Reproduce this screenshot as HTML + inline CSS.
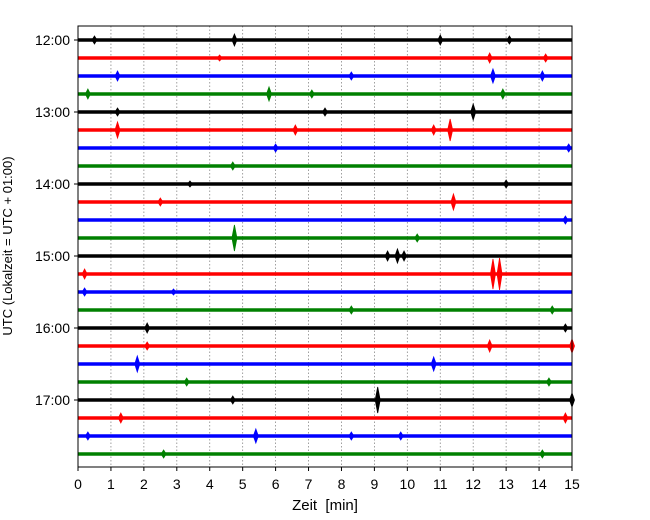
<!DOCTYPE html>
<html><head><meta charset="utf-8"><style>
body{margin:0;background:#fff;}
svg{display:block;font-family:"Liberation Sans","DejaVu Sans",sans-serif;}
</style></head><body>
<svg id="chart" width="650" height="520">
<g id="grid"></g>
<g id="traces"></g>
<rect x="78" y="26" width="494" height="441" fill="none" stroke="#000" stroke-width="1"/>
<g id="axes"></g>
<text x="325" y="510" text-anchor="middle" font-size="15">Zeit&#160; [min]</text>
<text transform="translate(12,246) rotate(-90)" text-anchor="middle" font-size="13">UTC (Lokalzeit = UTC + 01:00)</text>
</svg>
<script>
const xTicks=[0,1,2,3,4,5,6,7,8,9,10,11,12,13,14,15];
const yLabels=["12:00","13:00","14:00","15:00","16:00","17:00"];
const rowColors=["#000000","#ff0000","#0000ff","#008000"];
const events=[
[[0.5,3],[4.75,5],[11,4],[13.1,3]],
[[12.5,4],[14.2,3],[4.3,2]],
[[1.2,4],[12.6,6],[14.1,4],[8.3,3]],
[[0.3,4],[5.8,6],[12.9,4],[7.1,3]],
[[1.2,3],[12,7],[7.5,3]],
[[1.2,7],[11.3,10],[6.6,4],[10.8,4]],
[[6,3],[14.9,3]],
[[4.7,3]],
[[13,3],[3.4,2]],
[[11.4,7],[2.5,3]],
[[14.8,3]],
[[4.75,12],[10.3,3]],
[[9.7,6],[9.4,4],[9.9,4]],
[[12.6,14],[12.8,15],[0.2,4]],
[[0.2,3],[2.9,2]],
[[14.4,3],[8.3,3]],
[[2.1,4],[14.8,3]],
[[12.5,5],[15,6],[2.1,3]],
[[1.8,7],[10.8,6]],
[[3.3,3],[14.3,3]],
[[9.1,12],[15,6],[4.7,3]],
[[1.3,4],[14.8,4]],
[[5.4,6],[0.3,3],[9.8,3],[8.3,3]],
[[2.6,3],[14.1,3]]
];
const NS="http://www.w3.org/2000/svg";
const x0=78,x1=572,y0=40,rowH=18;
const xs=m=>x0+(x1-x0)*m/15;
const ys=r=>y0+r*rowH;
function mk(t,a,p){const e=document.createElementNS(NS,t);for(const k in a)e.setAttribute(k,a[k]);p.appendChild(e);return e;}
const grid=document.getElementById('grid'),tr=document.getElementById('traces'),ax=document.getElementById('axes');
xTicks.forEach(t=>{
  if(t>0&&t<15){const g=mk('line',{x1:xs(t),x2:xs(t),y1:26,y2:467,stroke:'#888','stroke-width':0.8,'stroke-dasharray':'1.5,2'},grid);
  
  }
  const tk=mk('line',{x1:xs(t),x2:xs(t),y1:467,y2:471,stroke:'#000'},ax);
  
  
  const l=mk('text',{x:xs(t),y:489,'text-anchor':'middle','font-size':14},ax);l.textContent=t;
  
  
});
yLabels.forEach((s,i)=>{
  const y=ys(i*4);
  const tk=mk('line',{x1:74,x2:78,y1:y,y2:y,stroke:'#000'},ax);
  
  
  const l=mk('text',{x:70,y:y+5,'text-anchor':'end','font-size':14},ax);l.textContent=s;
  
  
});
events.forEach((ev,r)=>{
  const c=rowColors[r%4],y=ys(r);
  const g=mk('g',{},tr);
  
  
  mk('line',{x1:xs(0),x2:xs(15),y1:y,y2:y,stroke:c,'stroke-width':3.5},g);
  ev.forEach(([m,a])=>{
    const p=mk('polygon',{points:`${xs(m)-2.5},${y} ${xs(m)},${y-a-1} ${xs(m)+2.5},${y} ${xs(m)},${y+a+1}`,fill:c,stroke:c,'stroke-width':0.8},g);
    
    
  });
});
</script>
</body></html>
